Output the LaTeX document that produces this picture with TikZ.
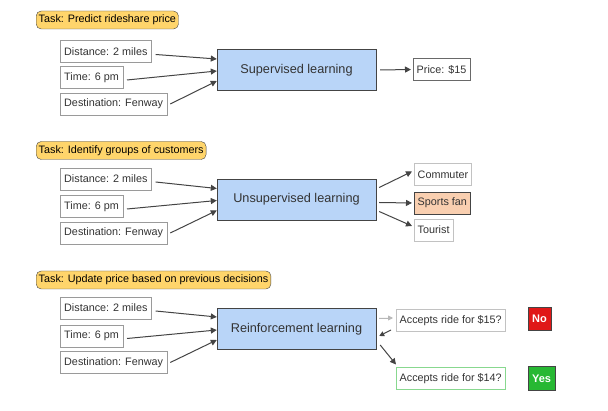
\documentclass[tikz,border=0pt]{standalone}
\usepackage{fontspec}
\setmainfont{Liberation Sans}
\usetikzlibrary{arrows.meta}
\definecolor{taskfill}{HTML}{FFD56B}
\definecolor{learnfill}{HTML}{B9D5F8}
\definecolor{sportfill}{HTML}{F9CFB0}
\definecolor{nofill}{HTML}{E01818}
\definecolor{yesfill}{HTML}{27B833}
\definecolor{boxline}{HTML}{9A9A9A}
\definecolor{darkline}{HTML}{444444}
\definecolor{textcol}{HTML}{333333}
\tikzset{
  task/.style={draw=darkline, fill=taskfill, rounded corners=5pt, inner xsep=2.5pt, inner ysep=0pt, minimum height=18pt, anchor=west, font=\fontsize{10.8}{12}\selectfont, text=black},
  inbox/.style={draw=boxline, fill=white, inner xsep=4pt, inner ysep=0pt, minimum height=22pt, anchor=west, font=\fontsize{10.8}{12}\selectfont, text=textcol},
  learn/.style={draw=darkline, fill=learnfill, minimum width=159pt, minimum height=41pt, font=\fontsize{12.7}{14}\selectfont, text=textcol},
  outbox/.style={draw=boxline!60, fill=white, inner xsep=3.5pt, inner ysep=0pt, minimum height=22pt, anchor=west, font=\fontsize{10.8}{12}\selectfont, text=textcol},
  flag/.style={draw=darkline, text=white, font=\bfseries\fontsize{11}{12}\selectfont, inner xsep=4pt, inner ysep=0pt},
  conn/.style={-{Triangle[length=6pt,width=6pt]}, darkline, line width=1pt},
}
\begin{document}
\begin{tikzpicture}[x=1pt,y=-1pt]
\useasboundingbox (0,0) rectangle (608,411);
% ---- Section 1
\node[task] (t1) at (36,20) {Task: Predict rideshare price};
\node[inbox] (d1) at (60,51.5) {Distance: 2 miles};
\node[inbox] (m1) at (60,77.5) {Time: 6 pm};
\node[inbox] (f1) at (60,104) {Destination: Fenway};
\node[learn] (s1) at (296.5,70) {Supervised learning};
\node[outbox, draw=darkline!80] (p1) at (413,69.5) {Price: \$15};
\draw[conn] ([xshift=4pt,yshift=-3pt]d1.east) -- ([yshift=11pt]s1.west);
\draw[conn] ([xshift=4pt,yshift=-2.5pt]m1.east) -- ([yshift=-1pt]s1.west);
\draw[conn] ([xshift=3pt]f1.east) -- ([yshift=-11pt]s1.west);
\draw[conn] ([xshift=4pt]s1.east) -- ([xshift=-2pt]p1.west);
% ---- Section 2
\node[task] (t2) at (36,150.5) {Task: Identify groups of customers};
\node[inbox] (d2) at (60,179) {Distance: 2 miles};
\node[inbox] (m2) at (60,206.5) {Time: 6 pm};
\node[inbox] (f2) at (60,233) {Destination: Fenway};
\node[learn] (s2) at (296.5,199.5) {Unsupervised learning};
\node[outbox] (c2) at (414,174.5) {Commuter};
\node[outbox, fill=sportfill, draw=darkline] (sp2) at (414,203) {Sports fan};
\node[outbox] (to2) at (414,230) {Tourist};
\draw[conn] ([xshift=4pt,yshift=-3pt]d2.east) -- ([yshift=11pt]s2.west);
\draw[conn] ([xshift=4pt,yshift=-2.5pt]m2.east) -- ([yshift=-1pt]s2.west);
\draw[conn] ([xshift=3pt]f2.east) -- ([yshift=-11pt]s2.west);
\draw[conn] ([xshift=3pt,yshift=12pt]s2.east) -- ([xshift=-2pt,yshift=3pt]c2.west);
\draw[conn] ([xshift=3pt,yshift=-3pt]s2.east) -- ([xshift=-2pt]sp2.west);
\draw[conn] ([xshift=3pt,yshift=-12pt]s2.east) -- ([xshift=-2pt,yshift=4pt]to2.west);
% ---- Section 3
\node[task] (t3) at (36,280) {Task: Update price based on previous decisions};
\node[inbox] (d3) at (60,308) {Distance: 2 miles};
\node[inbox] (m3) at (60,336) {Time: 6 pm};
\node[inbox] (f3) at (60,362.5) {Destination: Fenway};
\node[learn] (s3) at (296.5,329) {Reinforcement learning};
\node[outbox] (a15) at (396,320.5) {Accepts ride for \$15?};
\node[outbox, draw=yesfill!55] (a14) at (396,378.5) {Accepts ride for \$14?};
\node[flag, fill=nofill, minimum height=23pt] (no) at (539.5,319) {No};
\node[flag, fill=yesfill, minimum height=24pt] (yes) at (541.5,378.5) {Yes};
\draw[conn] ([xshift=4pt,yshift=-3pt]d3.east) -- ([yshift=12pt]s3.west);
\draw[conn] ([xshift=4pt,yshift=-2.5pt]m3.east) -- ([yshift=-1pt]s3.west);
\draw[conn] ([xshift=3pt]f3.east) -- ([yshift=-11pt]s3.west);
\draw[conn, draw=boxline!70, fill=boxline!70, -{Triangle[length=5pt,width=5pt]}, line width=0.8pt] ([xshift=3pt,yshift=11pt]s3.east) -- ([xshift=-3pt,yshift=2.5pt]a15.west);
\coordinate (rb) at ([xshift=-5pt,yshift=-9.5pt]a15.west);
\draw[conn, -{Triangle[length=5pt,width=5pt]}] (rb) -- ([xshift=3pt,yshift=-7pt]s3.east);
\draw[conn] ([xshift=4pt,yshift=-16pt]s3.east) -- ([xshift=0pt,yshift=14pt]a14.west);
\end{tikzpicture}
\end{document}
